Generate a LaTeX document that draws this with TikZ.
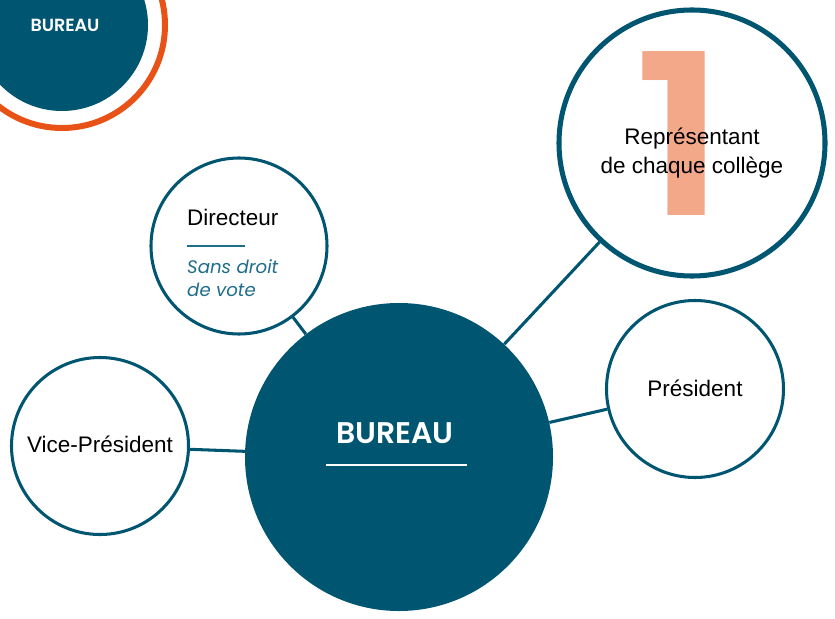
\documentclass[tikz,border=0pt]{standalone}
\usepackage{fontspec}
\setmainfont{Liberation Sans}
\newfontfamily\polyfont{Poppins}[BoldFont={* SemiBold}]
\usetikzlibrary{positioning}
\definecolor{bureaublue}{RGB}{0,85,112}
\definecolor{ringorange}{RGB}{232,82,22}
\definecolor{onesalmon}{RGB}{243,168,137}
\definecolor{noteteal}{RGB}{30,110,138}

\begin{document}
\begin{tikzpicture}[x=0.03cm,y=-0.03cm,
  ring/.style={circle,draw=bureaublue,line width=2.6pt,fill=white,inner sep=0pt},
  link/.style={draw=bureaublue,line width=2.6pt},
  roletext/.style={font=\fontsize{19.2}{24}\selectfont,text=black,inner sep=0pt}]
 \useasboundingbox (0,0) rectangle (835,619);
 \clip (0,0) rectangle (835,619);

  \node[circle,fill=bureaublue,minimum size=5.16cm] (mini) at (62,25) {};
  \node[circle,draw=ringorange,line width=5.1pt,minimum size=6.18cm] (miniring) at (mini.center) {};
  \node[font=\polyfont\bfseries\fontsize{15}{15}\selectfont,text=white,anchor=base,inner sep=0pt] (minititle) at (65,32) {BUREAU};

  \node[ring,line width=4.3pt,minimum size=7.98cm] (rep) at (692,143) {};
  \node[ring,minimum size=5.28cm] (dir) at (239,246) {};
  \node[ring,minimum size=5.31cm] (pres) at (695,389) {};
  \node[ring,minimum size=5.31cm] (vice) at (100,446) {};
  \node[circle,fill=bureaublue,minimum size=9.24cm] (main) at (399,457) {};

  \draw[link] (dir) -- (main);
  \draw[link] (rep) -- (main);
  \draw[link] (pres) -- (main);
  \draw[link] (vice) -- (main);

  \node[font=\polyfont\bfseries\fontsize{192}{192}\selectfont,text=onesalmon,inner sep=0pt,xscale=1.15] (one) at (680,134) {1};
  \node[roletext,align=center,anchor=base] (reptext) at (692,173) {Représentant\\de chaque collège};

  \node[roletext,anchor=base west] (dirtext) at (187,225) {Directeur};
  \draw[noteteal,line width=1.6pt] (187,246) -- ++(58,0);
  \node[font=\polyfont\itshape\fontsize{15.5}{18.8}\selectfont,text=noteteal,align=left,anchor=base west,inner sep=0pt] (dirnote) at (187,296) {Sans droit\\de vote};

  \node[roletext,anchor=base] (prestext) at (695,396) {Président};
  \node[roletext,anchor=base] (vicetext) at (100,452) {Vice-Président};

  \node[font=\polyfont\bfseries\fontsize{25.5}{25.5}\selectfont,text=white,anchor=base,inner sep=0pt] (maintitle) at (395,443) {BUREAU};
  \draw[white,line width=1.7pt] (326,465) -- (467,465);
\end{tikzpicture}
\end{document}
